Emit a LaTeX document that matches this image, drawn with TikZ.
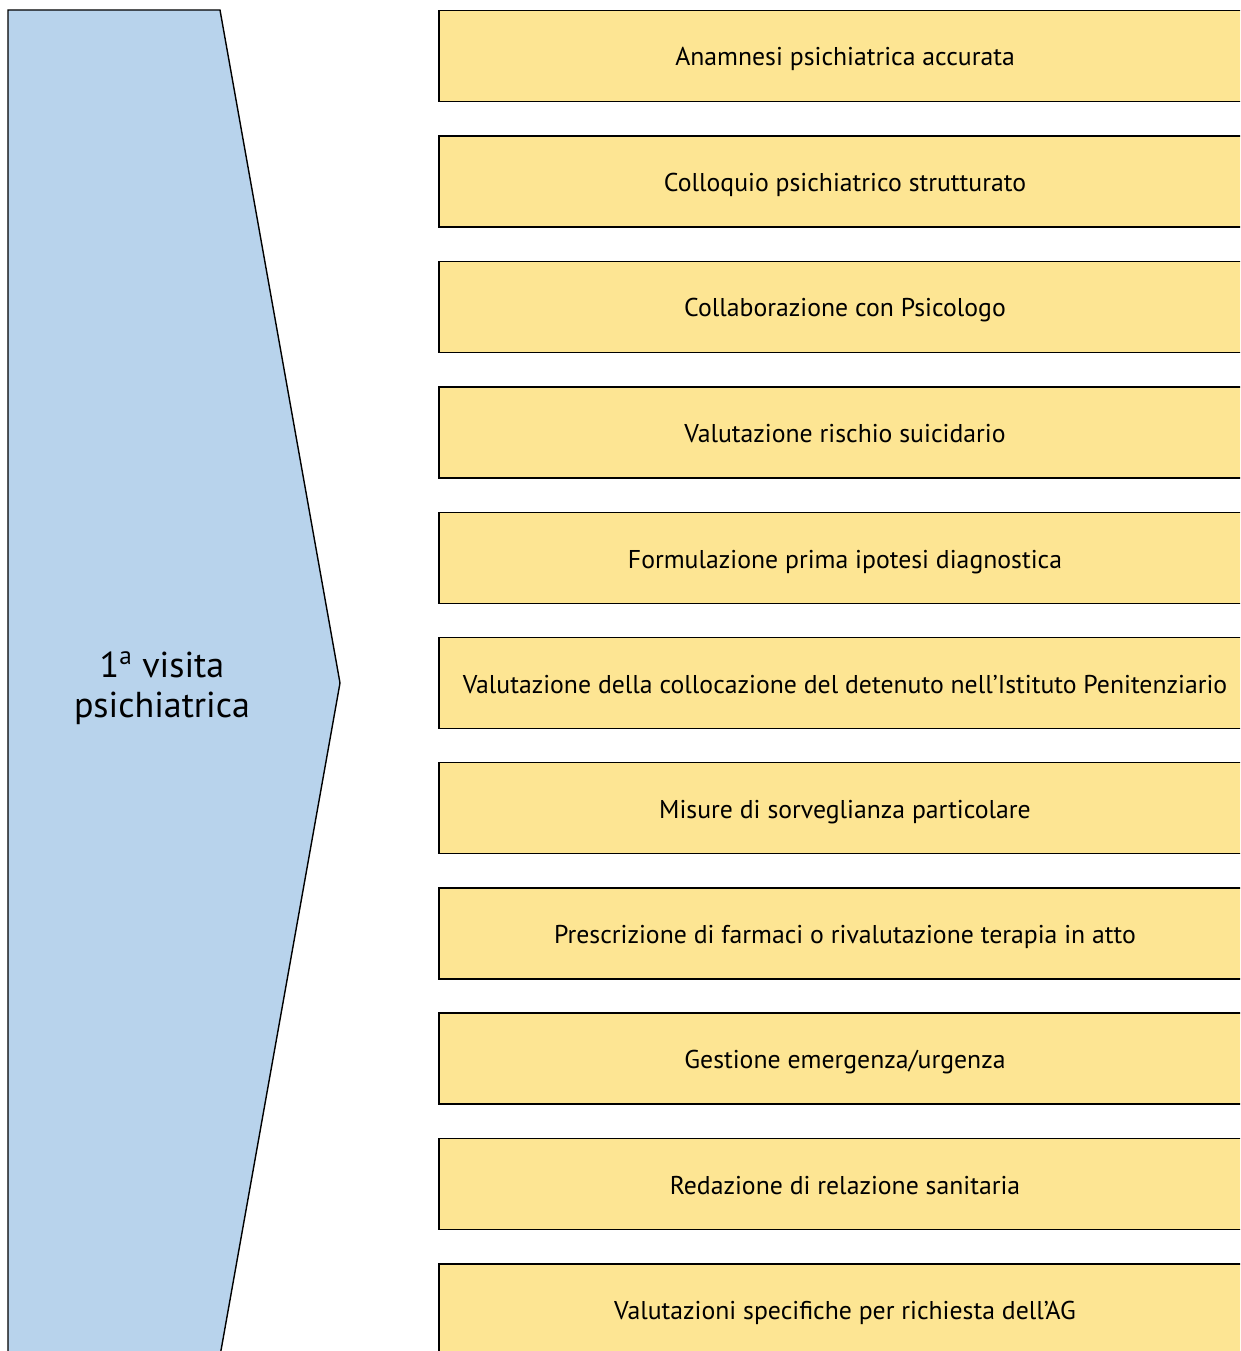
\documentclass[tikz,border=0pt]{standalone}
\usepackage{fontspec}
\setmainfont{PT Sans}
\definecolor{visitblue}{RGB}{184,211,236}
\definecolor{stepyellow}{RGB}{253,229,147}
\begin{document}
\begin{tikzpicture}[x=0.02cm, y=-0.02cm]
\tikzset{el/.style={draw, rectangle, fill=stepyellow, line width=0.8pt,
  minimum width=16.24cm, minimum height=1.82cm, inner sep=0pt,
  text height=0.4cm, text depth=0pt,
  font=\fontsize{14.65}{17}\selectfont}}

\useasboundingbox (0,0) rectangle (1240,1351);
\clip (0,0) rectangle (1240,1351);

% Left arrow shape
\draw[fill=visitblue, line width=0.8pt] (8,10) -- (220,10) -- (340,683) -- (220,1356) -- (8,1356) -- cycle;
\node[align=center, font=\fontsize{20.5}{22.7}\selectfont] (visit) at (162,688)
{1\textsuperscript{a} visita\\psichiatrica};

% Steps
\node[el] (anamnesi) at (845,56) {Anamnesi psichiatrica accurata};
\node[el] (colloquio) at (845,181.5) {Colloquio psichiatrico strutturato};
\node[el] (psicologo) at (845,307) {Collaborazione con Psicologo};
\node[el] (rischio) at (845,432.5) {Valutazione rischio suicidario};
\node[el] (ipotesi) at (845,558) {Formulazione prima ipotesi diagnostica};
\node[el] (collocazione) at (845,683) {Valutazione della collocazione del detenuto nell’Istituto Penitenziario};
\node[el] (sorveglianza) at (845,808) {Misure di sorveglianza particolare};
\node[el] (farmaci) at (845,933.5) {Prescrizione di farmaci o rivalutazione terapia in atto};
\node[el] (urgenza) at (845,1058.5) {Gestione emergenza/urgenza};
\node[el] (relazione) at (845,1184) {Redazione di relazione sanitaria};
\node[el] (richiesta) at (845,1309.5) {Valutazioni specifiche per richiesta dell’AG};

\end{tikzpicture}
\end{document}
